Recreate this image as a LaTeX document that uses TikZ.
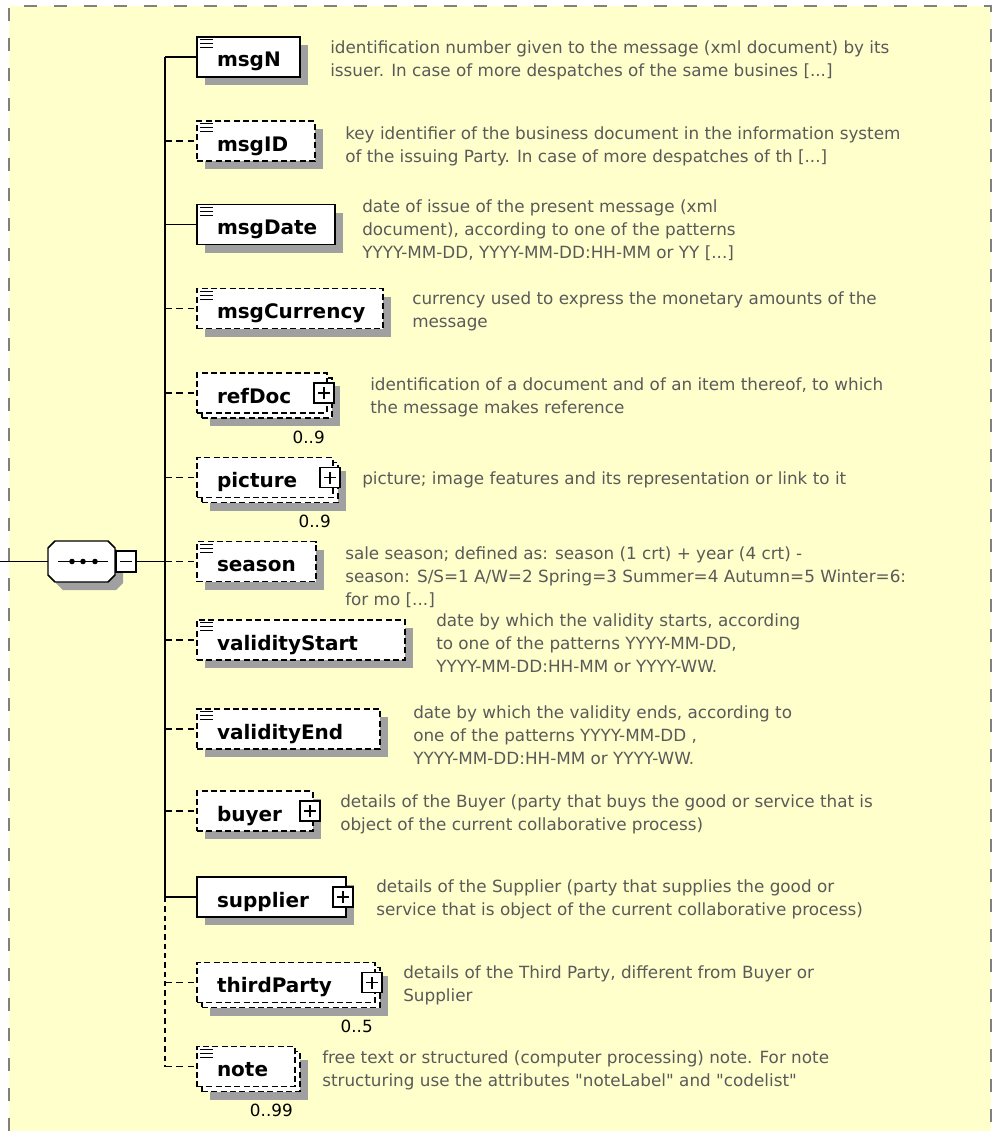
\documentclass[tikz,border=0pt]{standalone}
\usepackage{fontspec}
\setmainfont{DejaVu Sans}
\usetikzlibrary{shadows,positioning}
\definecolor{bgyellow}{RGB}{255,255,204}
\definecolor{shadowgray}{RGB}{160,160,160}
\definecolor{descgray}{RGB}{90,90,90}
\definecolor{bordergray}{RGB}{128,128,128}
\newcommand\pxu{0.75pt}
\newcommand\namefont{\fontsize{15}{18}\selectfont\bfseries}
\newcommand\descfont{\fontsize{12.6}{17.25}\selectfont}
\pgfkeys{tikz/elembox/.style={draw,fill=white,line width=1.1pt,font=\namefont,inner xsep=15pt,inner ysep=0pt,minimum height=30pt,text height=15pt,text depth=0pt,align=left,outer sep=0pt}}
\pgfkeys{tikz/optbox/.style={dash pattern=on 4.5pt off 2.5pt}}
\pgfkeys{tikz/single/.style={drop shadow={shadow xshift=6pt,shadow yshift=-6pt,fill=shadowgray,opacity=1}}}
\pgfkeys{tikz/multi/.style={drop shadow={shadow xshift=9.75pt,shadow yshift=-9.75pt,fill=shadowgray,opacity=1},copy shadow={shadow xshift=3.75pt,shadow yshift=-3.75pt,draw=black,fill=white,line width=1.1pt,dash pattern=on 4.5pt off 2.5pt}}}
\pgfkeys{tikz/simpleicon/.style={path picture={\foreach \dy in {2.5,6.5,10.5} \draw[line width=0.75pt,solid] ([shift={(3,\dy)}]path picture bounding box.north west) -- ++(13,0);}}}
\pgfkeys{tikz/plusbox/.style={draw,fill=white,line width=1pt,solid,minimum size=15pt,inner sep=0pt,outer sep=0pt,path picture={\draw[line width=1pt] ([xshift=3pt]path picture bounding box.west) -- ([xshift=-3pt]path picture bounding box.east) ([yshift=3pt]path picture bounding box.south) -- ([yshift=-3pt]path picture bounding box.north);}}}
\pgfkeys{tikz/minusbox/.style={draw,fill=white,line width=1pt,minimum width=15pt,minimum height=15.75pt,inner sep=0pt,outer sep=0pt,path picture={\draw[line width=1pt] ([xshift=3pt]path picture bounding box.west) -- ([xshift=-3pt]path picture bounding box.east);}}}
\pgfkeys{tikz/seqbox/.style={rectangle,minimum width=50.25pt,minimum height=30.75pt,inner sep=0pt,outer sep=0pt}}
\pgfkeys{tikz/desc/.style={font=\descfont,text=descgray,align=left,inner sep=0pt,anchor=north west}}
\pgfkeys{tikz/mult/.style={font=\descfont,inner sep=0pt,anchor=east}}
\pgfkeys{tikz/conn/.style={line width=1.2pt}}
\pgfkeys{tikz/optconn/.style={conn,dash pattern=on 5pt off 3.5pt}}
% element box: style, name, y, width (px)
\newcommand*\xelem[4][]{
    \coordinate (#2-t) at (165,#3);
    \node[elembox,text width={(#4-40)*\pxu},anchor=west,#1] (#2) at (197,#3) {#2};
}
% outline of the sequence compositor
\newcommand*\seqoutline{(55,541) -- (108,541) -- (115,548) -- (115,575) -- (108,582) -- (55,582) -- (48,575) -- (48,548) -- cycle}

\begin{document}
\begin{tikzpicture}[x=\pxu,y=-\pxu]
    \useasboundingbox (0,0) rectangle (996,1131);
    \fill[bgyellow] (9,6) rectangle (991,1131);
    \draw[bordergray,line width=1.5pt,dash pattern=on 9.75pt off 12.75pt] (9,1131) -- (9,6) -- (991,6) -- (991,1131);

    % children
    \xelem[single,simpleicon]{msgN}{57}{103}
    \xelem[single,simpleicon,optbox]{msgID}{141}{118}
    \xelem[single,simpleicon]{msgDate}{224.5}{138}
    \xelem[single,simpleicon,optbox]{msgCurrency}{308.5}{186}
    \xelem[multi,optbox]{refDoc}{393}{130}
    \xelem[multi,optbox]{picture}{477.5}{136}
    \xelem[single,simpleicon,optbox]{season}{561.5}{119}
    \xelem[single,simpleicon,optbox]{validityStart}{640}{208}
    \xelem[single,simpleicon,optbox]{validityEnd}{729}{183}
    \xelem[single,optbox]{buyer}{811}{116}
    \xelem[single]{supplier}{897}{149}
    \xelem[multi,optbox]{thirdParty}{982.5}{178}
    \xelem[multi,simpleicon,optbox]{note}{1066.5}{98}

    \foreach \e in {refDoc,picture,buyer,supplier,thirdParty}
        \node[plusbox] (\e-plus) at ([xshift=-2.25pt]\e.east) {};

    \node[mult] (refDoc-m) at ([xshift=-1.5pt,yshift=-18pt]refDoc.south east) {0..9};
    \node[mult] (picture-m) at ([xshift=-1.5pt,yshift=-18pt]picture.south east) {0..9};
    \node[mult] (thirdParty-m) at ([xshift=-1.5pt,yshift=-18pt]thirdParty.south east) {0..5};
    \node[mult] (note-m) at ([xshift=-1.5pt,yshift=-18pt]note.south east) {0..99};

    % trunk and connectors
    \draw[conn,line width=1.5pt] (msgN-t) -- (supplier-t);
    \draw[conn,line width=1.5pt,dash pattern=on 4pt off 3pt] (supplier-t) -- (note-t);
    \foreach \e in {msgN,msgDate,supplier}
        \draw[conn] (\e-t) -- (\e);
    \foreach \e in {msgID,msgCurrency,refDoc,picture,season,validityStart,validityEnd,buyer,thirdParty,note}
        \draw[optconn] (\e-t) -- (\e);

    % sequence compositor
    \fill[shadowgray,shift={(8,8)}] \seqoutline;
    \filldraw[fill=white,line width=1.1pt] \seqoutline;
    \node[seqbox] (seq) at (81.5,561.5) {};
    \node[minusbox,anchor=west] (seq-minus) at ([xshift=0.75pt]seq.east) {};
    \coordinate (root) at (0,561.5);
    \draw[conn] (root) -- (seq);
    \draw[conn] (seq-minus) -- (season-t);
    \draw[line width=1pt] ([xshift=7.5pt]seq.west) -- ([xshift=-5.25pt]seq.east);
    \foreach \dx in {72,83,95}
        \fill (\dx,561.5) circle (2.1pt);

    % annotations
    \node[desc] (msgN-d) at (330,40.7) {identification number given to the message (xml document) by its\\issuer. In case of more despatches of the same busines [...]};
    \node[desc] (msgID-d) at (345,126.7) {key identifier of the business document in the information system\\of the issuing Party. In case of more despatches of th [...]};
    \node[desc] (msgDate-d) at (362,199.7) {date of issue of the present message (xml\\document), according to one of the patterns\\YYYY-MM-DD, YYYY-MM-DD:HH-MM or YY [...]};
    \node[desc] (msgCurrency-d) at (412,291.7) {currency used to express the monetary amounts of the\\message};
    \node[desc] (refDoc-d) at (370,377.7) {identification of a document and of an item thereof, to which\\the message makes reference};
    \node[desc] (picture-d) at (362,471.7) {picture; image features and its representation or link to it};
    \node[desc] (season-d) at (345,546.7) {sale season; defined as: season (1 crt) + year (4 crt) -\\season: S/S=1 A/W=2 Spring=3 Summer=4 Autumn=5 Winter=6:\\for mo [...]};
    \node[desc] (validityStart-d) at (436,613.7) {date by which the validity starts, according\\to one of the patterns YYYY-MM-DD,\\YYYY-MM-DD:HH-MM or YYYY-WW.};
    \node[desc] (validityEnd-d) at (413,705.7) {date by which the validity ends, according to\\one of the patterns YYYY-MM-DD ,\\YYYY-MM-DD:HH-MM or YYYY-WW.};
    \node[desc] (buyer-d) at (340,794.7) {details of the Buyer (party that buys the good or service that is\\object of the current collaborative process)};
    \node[desc] (supplier-d) at (376,879.7) {details of the Supplier (party that supplies the good or\\service that is object of the current collaborative process)};
    \node[desc] (thirdParty-d) at (403,965.7) {details of the Third Party, different from Buyer or\\Supplier};
    \node[desc] (note-d) at (322,1050.7) {free text or structured (computer processing) note. For note\\structuring use the attributes \textquotedbl noteLabel\textquotedbl{} and \textquotedbl codelist\textquotedbl};
\end{tikzpicture}
\end{document}
